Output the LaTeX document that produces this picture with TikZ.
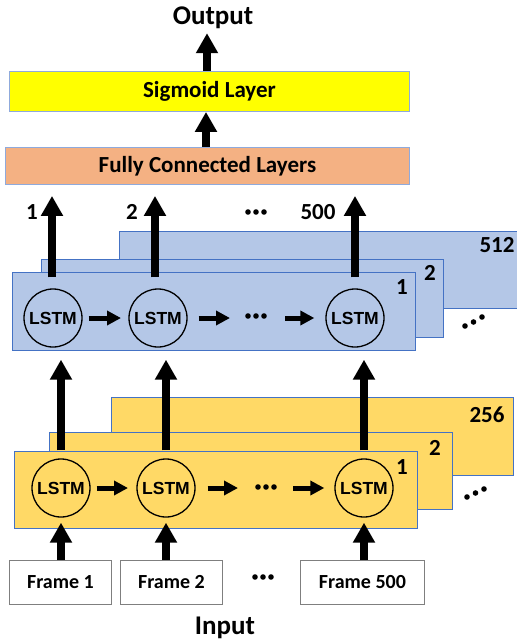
\documentclass[tikz,border=0pt]{standalone}
\usepackage{fontspec}
\setmainfont{Carlito}
\newfontfamily\arialf{Liberation Sans}
\usetikzlibrary{arrows.meta}
\definecolor{bluefill}{HTML}{B4C7E7}
\definecolor{boxblue}{HTML}{4472C4}
\definecolor{yelfill}{HTML}{FFD966}
\definecolor{fcfill}{HTML}{F4B183}
\definecolor{sigfill}{HTML}{FFFF00}
\definecolor{sigborder}{HTML}{8FAADC}
\definecolor{framegray}{HTML}{7F7F7F}
\tikzset{
  layerbox/.style={draw=boxblue, line width=0.8pt, anchor=north west, inner sep=0pt},
  bluebox/.style={layerbox, fill=bluefill},
  yelbox/.style={layerbox, fill=yelfill},
  topbox/.style={draw=sigborder, line width=0.9pt, anchor=north west, inner sep=0pt, font=\fontsize{23}{27}\selectfont\bfseries},
  framebox/.style={draw=framegray, line width=0.9pt, fill=white, anchor=north west, inner sep=0pt, minimum height=44pt, font=\fontsize{20}{24}\selectfont\bfseries},
  lstm/.style={circle, draw=black, line width=1.3pt, minimum size=58pt, inner sep=0pt, font=\arialf\fontsize{17.5}{20}\selectfont\bfseries},
  lbl/.style={inner sep=0pt, font=\fontsize{23}{27}\selectfont\bfseries},
  title/.style={inner sep=0pt, font=\fontsize{27}{32}\selectfont\bfseries},
  bigarrow/.style={line width=8pt, -{Triangle[width=21pt,length=20pt]}},
  harrow/.style={line width=5pt, -{Triangle[width=14pt,length=14pt]}},
}
\newcommand{\threedots}[3]{% x y spacing
  \fill (#1-#3,#2) circle (2.8pt); \fill (#1,#2) circle (2.8pt); \fill (#1+#3,#2) circle (2.8pt);}
\begin{document}
\begin{tikzpicture}[x=1pt,y=-1pt]
\useasboundingbox (0,0) rectangle (517,641);

% top boxes
\node[topbox, fill=sigfill, minimum width=400pt, minimum height=40pt] (sig) at (9,71) {Sigmoid Layer};
\node[topbox, fill=fcfill, minimum width=404pt, minimum height=37pt] (fc) at (5,147) {Fully Connected Layers};
\node[title] (out) at (213,18) {Output};
\node[title] (in) at (225,628) {Input};

% blue LSTM layers
\node[bluebox, minimum width=411pt, minimum height=77pt] (b512) at (119,231) {};
\node[bluebox, minimum width=402pt, minimum height=78pt] (b2box) at (41,259) {};
\node[bluebox, minimum width=403pt, minimum height=78pt] (b1box) at (12,272) {};
\node[lbl] at (497,245) {512};
\node[lbl] at (430,273) {2};
\node[lbl] at (402,287) {1};

% yellow LSTM layers
\node[yelbox, minimum width=402pt, minimum height=78pt] (y256) at (111,397) {};
\node[yelbox, minimum width=403pt, minimum height=77pt] (y2box) at (49,432) {};
\node[yelbox, minimum width=403pt, minimum height=77pt] (y1box) at (14,451) {};
\node[lbl] at (487,415) {256};
\node[lbl] at (435,448) {2};
\node[lbl] at (402,467) {1};

% LSTM cells
\node[lstm] (b1) at (53,318) {LSTM};
\node[lstm] (b2) at (158,318) {LSTM};
\node[lstm] (b3) at (355,318) {LSTM};
\node[lstm] (y1) at (61,488) {LSTM};
\node[lstm] (y2) at (166,488) {LSTM};
\node[lstm] (y3) at (364,488) {LSTM};

% frames
\node[framebox, minimum width=102pt] (f1) at (9,560) {};
\node[framebox, minimum width=102pt] (f2) at (120,560) {};
\node[framebox, minimum width=124pt] (f3) at (300,560) {};
\node[font=\fontsize{20}{24}\selectfont\bfseries] at (f1.center) {Frame 1};
\node[font=\fontsize{20}{24}\selectfont\bfseries] at (f2.center) {Frame 2};
\node[font=\fontsize{20}{24}\selectfont\bfseries] at (f3.center) {Frame 500};

% output labels
\node[lbl] at (32,212) {1};
\node[lbl] at (132,212) {2};
\node[lbl] at (318,212) {500};

% dots
\threedots{256}{212}{8}
\threedots{256}{316}{8}
\threedots{266}{487}{8}
\threedots{263}{577}{8}
\fill (465,326) circle (2.8pt); \fill (473.5,322) circle (2.8pt); \fill (482,317) circle (2.8pt);
\fill (467,497) circle (2.8pt); \fill (475.5,493) circle (2.8pt); \fill (484,489) circle (2.8pt);

% horizontal arrows
\coordinate (ba1) at (121,318);
\coordinate (ba2) at (230,318);
\coordinate (ba3) at (285,318);
\coordinate (ya1) at (128,488);
\coordinate (ya2) at (238,488);
\coordinate (ya3) at (293,488);
\draw[harrow, shorten <=6pt] (b1.east) -- (ba1);
\draw[harrow, shorten <=11pt] (b2.east) -- (ba2);
\draw[harrow, shorten >=11pt] (ba3) -- (b3.west);
\draw[harrow, shorten <=6pt] (y1.east) -- (ya1);
\draw[harrow, shorten <=12pt] (y2.east) -- (ya2);
\draw[harrow, shorten >=10pt] (ya3) -- (y3.west);

% vertical arrows
\draw[bigarrow, shorten <=11pt, shorten >=11pt] (b1.north -| 52,0) -- (fc.south -| 52,0);
\draw[bigarrow, shorten <=11pt, shorten >=11pt] (b2.north -| 155,0) -- (fc.south -| 155,0);
\draw[bigarrow, shorten <=11pt, shorten >=11pt] (b3.north) -- (fc.south -| b3);
\draw[bigarrow, shorten <=8pt, shorten >=12pt] (y1.north) -- (b1.south -| y1);
\draw[bigarrow, shorten <=8pt, shorten >=12pt] (y2.north) -- (b2.south -| y2);
\draw[bigarrow, shorten <=8pt, shorten >=12pt] (y3.north) -- (b3.south -| y3);
\draw[bigarrow, shorten >=5pt] (f1.north -| y1) -- (y1.south);
\draw[bigarrow, shorten >=5pt] (f2.north -| y2) -- (y2.south);
\draw[bigarrow, shorten >=5pt] (f3.north -| y3) -- (y3.south);
\draw[bigarrow] (fc.north -| 206,0) -- (sig.south -| 206,0);
\draw[bigarrow, shorten >=4pt] (sig.north -| 207,0) -- (out.south -| 207,0);
\end{tikzpicture}
\end{document}
